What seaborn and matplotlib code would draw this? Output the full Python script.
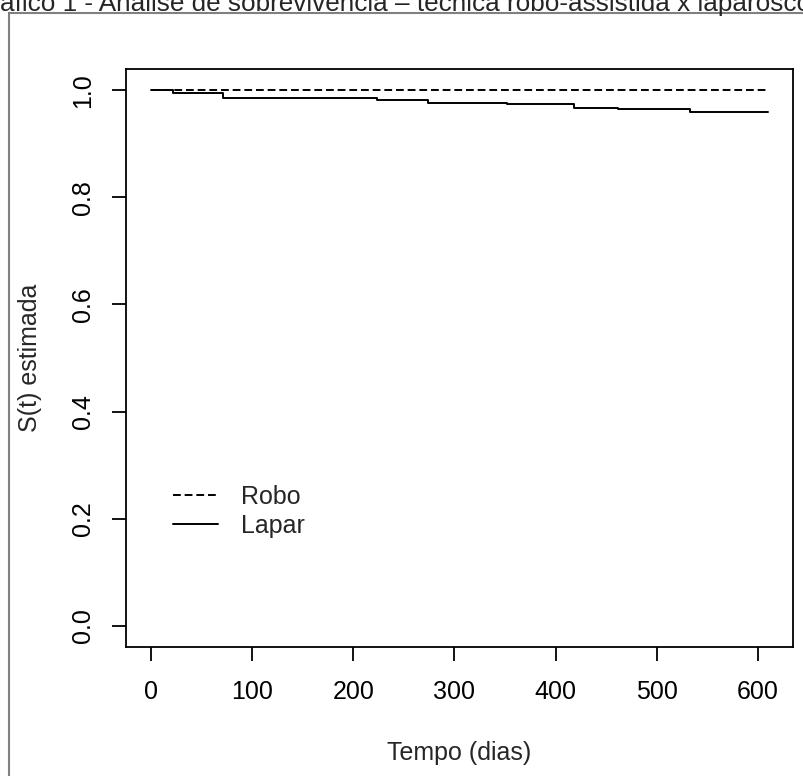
import matplotlib
matplotlib.use('Agg')
import matplotlib.pyplot as plt
import seaborn as sns
from matplotlib.patches import Rectangle

# ------------------------------------------------------------
# data
# ------------------------------------------------------------
robo_t = [0, 610]
robo_s = [1.0, 1.0]

lapar_t = [0, 21.8, 71, 223.6, 273.6, 351.8, 417.6, 461.2, 532.2, 610]
lapar_s = [1.0, 0.9944, 0.9857, 0.9826, 0.977, 0.974, 0.9677, 0.9645, 0.9595, 0.9595]

x_ticks = [0, 100, 200, 300, 400, 500, 600]
y_ticks = [0.0, 0.2, 0.4, 0.6, 0.8, 1.0]
y_ticklabels = ['0.0', '0.2', '0.4', '0.6', '0.8', '1.0']

title = 'Gráfico 1 - Análise de sobrevivência – técnica robô-assistida x laparoscópica'

# ------------------------------------------------------------
# figure
# ------------------------------------------------------------
sns.set_style('white')
plt.rcParams['font.family'] = ['Liberation Sans', 'DejaVu Sans']
FS = 18

W, H = 804, 776
fig = plt.figure(figsize=(W / 100, H / 100), dpi=100)
ax = fig.add_axes([126 / W, 1 - 647 / H, 667 / W, 578 / H])

sns.lineplot(x=robo_t, y=robo_s, ax=ax, drawstyle='steps-post', estimator=None,
             color='black', lw=1.4, linestyle=(0, (4, 2)), label='Robo')
sns.lineplot(x=lapar_t, y=lapar_s, ax=ax, drawstyle='steps-post', estimator=None,
             color='black', lw=1.4, label='Lapar')

ax.set_xlim(-24.4, 634.4)
ax.set_ylim(-0.04, 1.04)
ax.set_xticks(x_ticks)
ax.set_xticklabels([str(v) for v in x_ticks])
ax.set_yticks(y_ticks)
ax.set_yticklabels(y_ticklabels, rotation=90, va='center')

for s in ax.spines.values():
    s.set_visible(True)
    s.set_color('black')
    s.set_linewidth(1.3)

ax.tick_params(axis='both', direction='out', length=10, width=1.3, color='black',
               labelsize=FS, labelcolor='black')
ax.tick_params(axis='x', pad=13.5, bottom=True)
ax.tick_params(axis='y', pad=12, left=True)

ax.set_xlabel('Tempo (dias)', fontsize=FS, labelpad=27)
ax.set_ylabel('S(t) estimada', fontsize=FS, labelpad=21)

ax.legend(loc='upper left', bbox_to_anchor=(0.0705, 0.281), frameon=False,
          fontsize=FS, handlelength=1.8, handletextpad=0.9, labelspacing=0.22,
          borderpad=0, borderaxespad=0)

# outer gray frame of the original screenshot
fig.add_artist(Rectangle((8.5 / W, -0.1), 1.2, (H - 13) / H + 0.1,
                         transform=fig.transFigure, fill=False,
                         edgecolor='#808080', lw=1.5))

# clipped caption at the top (cut off in the reference too)
TFS = 18.8
probe = fig.text(0, 0, 'Gr', fontsize=TFS)
fig.canvas.draw()
w_gr = probe.get_window_extent().width
probe.remove()
fig.text(-w_gr / W, 1 - 11 / H, title, fontsize=TFS, va='baseline', ha='left')

fig.savefig('out.png', dpi=100)
